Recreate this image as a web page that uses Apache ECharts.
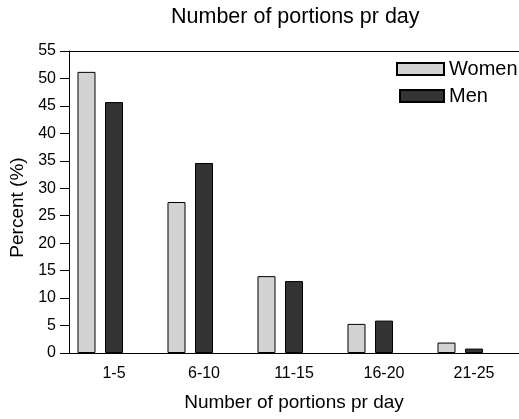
<!DOCTYPE html>
<html style="height: 100%">
    <head>
        <meta charset="utf-8" />
    </head>
    <body style="height: 100%; margin: 0; background: #fff">
        <div id="container" style="width: 519px; height: 419px"></div>

        <script type="text/javascript" src="https://cdn.jsdelivr.net/npm/echarts@6/dist/echarts.min.js"></script>

        <script type="text/javascript">
            var categories = ['1-5', '6-10', '11-15', '16-20', '21-25'];
            var women = [51.2, 27.5, 14.0, 5.3, 1.9];
            var men = [45.7, 34.6, 13.1, 5.9, 0.8];
            // empty slot so the Men bar sits on the tick, as in the original
            var spacer = ['-', '-', '-', '-', '-'];

            var font = "'Liberation Sans', Arial, sans-serif";
            var dom = document.getElementById('container');
            var myChart = echarts.init(dom, null, { renderer: 'canvas' });

            var barStyle = function (fill) {
                return { color: fill, borderColor: '#000', borderWidth: 1 };
            };

            var option = {
                animation: false,
                backgroundColor: '#fff',
                textStyle: { fontFamily: font, color: '#000' },
                title: {
                    text: 'Number of portions pr day',
                    left: 171,
                    top: 6,
                    padding: 0,
                    textStyle: { fontFamily: font, fontSize: 21.5, fontWeight: 'normal', color: '#000' }
                },
                legend: [
                    {
                        data: ['Women'],
                        left: 396,
                        top: 59,
                        padding: 0,
                        itemWidth: 47,
                        itemHeight: 12,
                        icon: 'rect',
                        textStyle: { fontFamily: font, fontSize: 20, color: '#000' }
                    },
                    {
                        data: ['Men'],
                        left: 399,
                        top: 86,
                        padding: 0,
                        itemWidth: 44,
                        itemHeight: 12,
                        icon: 'rect',
                        textStyle: { fontFamily: font, fontSize: 20, color: '#000' }
                    }
                ],
                grid: { left: 69, top: 51, width: 451, height: 302 },
                xAxis: [
                    {
                        type: 'category',
                        data: categories,
                        name: 'Number of portions pr day',
                        nameLocation: 'middle',
                        nameGap: 40,
                        nameTextStyle: { fontFamily: font, fontSize: 19, color: '#000' },
                        axisLine: { lineStyle: { color: '#000', width: 1 } },
                        axisTick: { alignWithLabel: true, length: 8, lineStyle: { color: '#000' } },
                        axisLabel: { fontFamily: font, fontSize: 16, color: '#000', margin: 13 }
                    },
                    {
                        type: 'category',
                        data: categories,
                        position: 'top',
                        axisLine: { show: true, lineStyle: { color: '#000', width: 1 } },
                        axisTick: { show: false },
                        axisLabel: { show: false }
                    }
                ],
                yAxis: {
                    type: 'value',
                    min: 0,
                    max: 55,
                    interval: 5,
                    name: 'Percent (%)',
                    nameLocation: 'middle',
                    nameGap: 40,
                    nameTextStyle: { fontFamily: font, fontSize: 19, color: '#000', padding: [0, 11, 0, 0] },
                    axisLine: { show: true, lineStyle: { color: '#000', width: 1 } },
                    axisTick: { show: true, length: 9, lineStyle: { color: '#000' } },
                    axisLabel: { fontFamily: font, fontSize: 16, color: '#000', margin: 13 },
                    splitLine: { show: false }
                },
                series: [
                    {
                        name: 'Women',
                        type: 'bar',
                        data: women,
                        barWidth: 18,
                        barGap: '52.8%',
                        itemStyle: barStyle('#d3d3d3')
                    },
                    {
                        name: 'Men',
                        type: 'bar',
                        data: men,
                        barWidth: 18,
                        barGap: '52.8%',
                        itemStyle: barStyle('#333333')
                    },
                    {
                        name: 'spacer',
                        type: 'bar',
                        data: spacer,
                        barWidth: 18,
                        barGap: '52.8%',
                        itemStyle: barStyle('rgba(0,0,0,0)')
                    }
                ]
            };

            myChart.setOption(option);
            window.addEventListener('resize', myChart.resize);
        </script>
    </body>
</html>
